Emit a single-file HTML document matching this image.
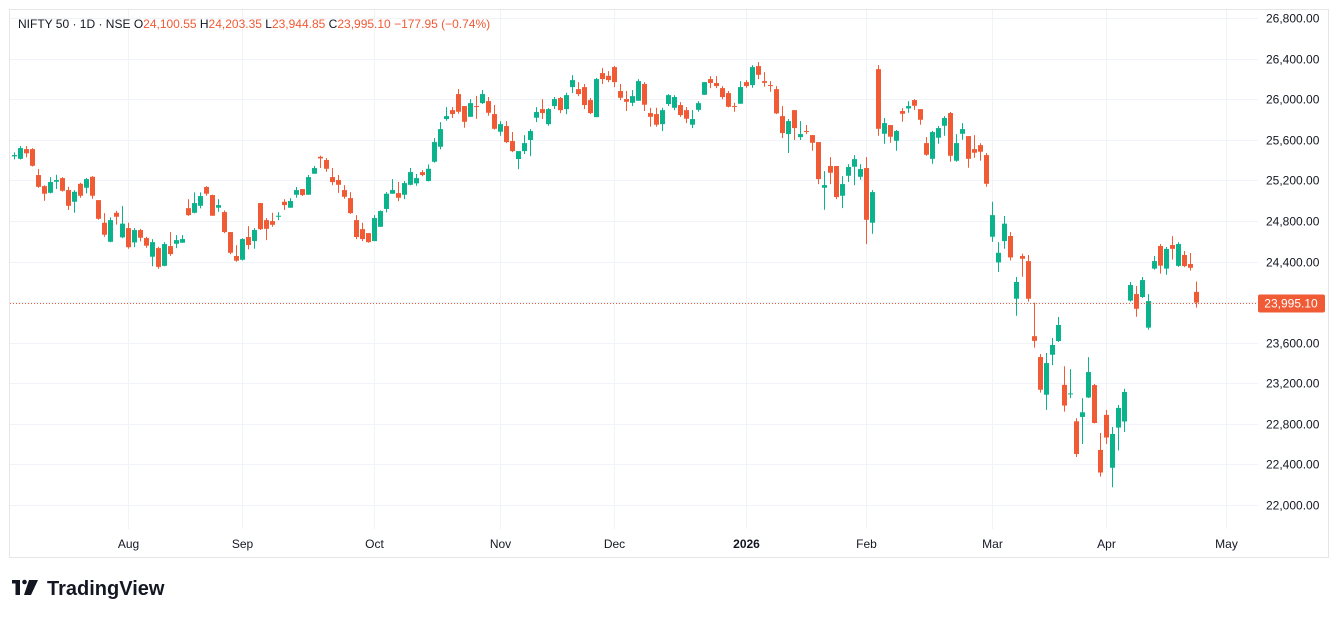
<!DOCTYPE html>
<html><head><meta charset="utf-8"><style>
html,body{margin:0;padding:0;background:#fff;width:1339px;height:618px;overflow:hidden}
svg{display:block;font-family:"Liberation Sans",sans-serif}
</style></head><body>
<svg id="chart" width="1339" height="618" viewBox="0 0 1339 618" xmlns="http://www.w3.org/2000/svg">
<rect x="9.5" y="9.5" width="1319" height="548" fill="#fff" stroke="#e6e6e6"/>
<g id="grid"></g>
<g id="candles"></g>
<g id="axes"></g>
<text x="18" y="28" font-size="12" fill="#131722">NIFTY 50 · 1D · NSE  <tspan>O</tspan><tspan fill="#f05a35">24,100.55</tspan>  H<tspan fill="#f05a35">24,203.35</tspan>  L<tspan fill="#f05a35">23,944.85</tspan>  C<tspan fill="#f05a35">23,995.10</tspan>  <tspan fill="#f05a35">−177.95 (−0.74%)</tspan></text>
<g>
<rect x="12" y="580" width="8" height="3.5" fill="#131722"/><rect x="15.5" y="580" width="4.5" height="15" fill="#131722"/>
<circle cx="24.5" cy="582" r="2.3" fill="#131722"/><polygon points="29,580 38,580 31,595 24,595" fill="#131722"/>
<text x="47" y="595" font-size="20" font-weight="bold" fill="#131722">TradingView</text>
</g>
</svg>
<script>
const opens=[25436,25412,25508,25508,25252,25143,25077,25186,25222,25104,24989,25166,25127,25235,25005,24782,24594,24880,24638,24729,24588,24710,24631,24447,24532,24357,24552,24575,24585,24926,24880,24949,25134,25055,24930,24887,24690,24454,24417,24641,24601,24976,24808,24798,24845,24989,24930,25058,25114,25058,25265,25432,25400,25232,25203,25104,25025,24808,24719,24680,24601,24742,24918,25068,25074,25058,25156,25170,25281,25193,25383,25531,25804,25892,26050,25932,25826,25932,25961,25981,25853,25679,25735,25587,25410,25488,25597,25817,25902,25754,25932,26011,25902,26119,26099,26119,25991,25823,26257,26230,26316,26080,26001,25964,25984,26149,25863,25853,25754,25952,25915,25942,25892,25748,25895,26043,26198,26159,26109,26060,25932,25955,26168,26139,26326,26178,26139,26099,25833,25656,25892,25626,25686,25646,25577,25127,25341,25341,25048,25245,25334,25235,25321,24782,26296,25659,25745,25590,25883,25909,25991,25902,25567,25412,25620,25738,25863,25393,25659,25636,25508,25547,25449,24644,24391,24601,24651,24033,24454,24404,23664,23458,23087,23481,23616,23184,23093,22825,22868,23060,23182,22543,22888,22367,22763,22823,24015,24079,24050,23748,24330,24553,24330,24562,24357,24464,24375,24100.55];
const highs=[25475,25538,25538,25518,25311,25150,25232,25255,25232,25137,25104,25176,25222,25242,25005,24877,24835,24900,24946,24782,24729,24722,24644,24621,24545,24591,24690,24660,24660,25015,25081,25081,25143,25058,25015,24904,24690,24562,24631,24749,24729,24976,24828,24880,24887,25015,25025,25134,25114,25252,25341,25442,25419,25321,25252,25153,25084,24857,24782,24680,24857,24904,25084,25212,25183,25193,25321,25262,25301,25357,25616,25774,25922,25922,26099,25932,26001,26033,26090,26021,25942,25784,25784,25676,25488,25646,25705,25922,26001,25912,26021,26021,26063,26237,26168,26149,26011,26210,26306,26277,26326,26149,26080,26090,26198,26168,25915,25915,25915,26050,26040,25971,25922,25892,25981,26168,26227,26227,26129,26080,25964,26178,26188,26336,26365,26267,26178,26129,25932,25804,25892,25784,25745,25646,25577,25291,25429,25341,25242,25360,25449,25360,25429,25104,26336,25814,25745,25696,25912,25981,26001,25902,25626,25686,25735,25833,25873,25656,25764,25636,25646,25567,25469,24989,24591,24848,24690,24247,24477,24464,23994,23488,23498,23646,23853,23368,23339,22855,23053,23458,23192,22710,22937,22769,22986,23144,24198,24158,24247,24079,24454,24572,24543,24650,24591,24503,24484,24203.35];
const lows=[25407,25405,25426,25336,25127,24998,25070,25114,25089,24907,24880,25028,25072,25018,24811,24644,24590,24763,24630,24526,24541,24598,24535,24353,24327,24353,24456,24532,24585,24850,24874,24924,25048,24851,24890,24680,24473,24397,24410,24520,24526,24710,24611,24742,24808,24907,24930,25028,25045,25058,25265,25321,25284,25153,25077,25018,24870,24621,24601,24585,24601,24742,24884,25068,24995,25015,25150,25147,25240,25190,25374,25505,25787,25814,25856,25718,25826,25807,25952,25836,25700,25639,25567,25478,25311,25459,25439,25774,25804,25738,25902,25863,25853,26060,26030,25902,25853,25823,26149,26168,26119,25991,25883,25932,25984,25883,25728,25728,25685,25932,25892,25826,25764,25715,25876,26043,26109,26109,26001,25919,25876,25955,26112,26112,26198,26122,26073,25853,25616,25469,25597,25597,25656,25492,25163,24910,25163,25015,24926,25183,25153,25206,24571,24674,25639,25560,25570,25492,25777,25866,25895,25748,25442,25363,25560,25639,25383,25383,25600,25324,25422,25393,25137,24594,24296,24526,24410,23865,24250,24004,23551,23107,22937,23379,23606,22920,23054,22473,22601,23055,22805,22280,22601,22175,22537,22720,24004,23856,24040,23728,24320,24280,24270,24418,24347,24345,24310,23944.85];
const closes=[25449,25518,25466,25343,25136,25068,25183,25203,25097,24949,25087,25048,25212,25048,24821,24664,24808,24841,24773,24541,24710,24634,24556,24591,24347,24572,24473,24611,24621,24857,24976,25045,25068,24851,24956,24690,24486,24408,24621,24562,24710,24719,24722,24762,24851,24956,24996,25104,25055,25232,25321,25416,25314,25183,25156,25038,24877,24641,24621,24591,24828,24897,25068,25104,25028,25173,25281,25222,25252,25314,25577,25705,25833,25853,25876,25777,25961,25925,26050,25866,25708,25754,25577,25488,25488,25567,25686,25873,25863,25902,26001,25892,26040,26188,26050,25942,25863,26198,26198,26188,26168,26014,25974,26030,26178,25945,25826,25748,25892,26040,26021,25843,25807,25804,25961,26168,26159,26129,26021,25925,25925,26119,26129,26316,26240,26161,26132,25860,25666,25784,25715,25656,25679,25570,25212,25153,25275,25035,25163,25331,25409,25311,24811,25084,25708,25764,25630,25686,25856,25932,25935,25797,25452,25676,25715,25814,25442,25567,25705,25412,25472,25482,25166,24857,24486,24773,24440,24198,24427,24033,23618,23136,23399,23577,23774,22980,23100,22503,22914,23310,22808,22320,22665,22700,22957,23114,24168,23934,24217,24010,24404,24359,24524,24525,24572,24355,24338,23995.10];
const priceTicks=[22000,22400,22800,23200,23600,24000,24400,24800,25200,25600,26000,26400,26800];
const monthLabels=["Aug","Sep","Oct","Nov","Dec","2026","Feb","Mar","Apr","May"];
const monthIndex=[19,38,60,81,100,122,142,163,182,202];
const lastPrice=23995.10;

const NS="http://www.w3.org/2000/svg";
const yTop=18,yBot=505,pMax=26800,pMin=22000;
function yScale(p){return yTop+(pMax-p)*(yBot-yTop)/(pMax-pMin);}
function xScale(i){return 14+i*6;}
function mk(tag,attrs,parent){const e=document.createElementNS(NS,tag);for(const k in attrs)e.setAttribute(k,attrs[k]);parent.appendChild(e);return e;}
const grid=document.getElementById('grid'),cg=document.getElementById('candles'),ax=document.getElementById('axes');
const fmt=v=>v.toLocaleString('en-US',{minimumFractionDigits:2,maximumFractionDigits:2});
priceTicks.forEach(p=>{
  const y=Math.round(yScale(p))+0.5;
  const l=mk('line',{x1:10,x2:1258,y1:y,y2:y,stroke:'#f0f3fa'},grid);
  
  
  const t=mk('text',{x:1266,y:y+4,'font-size':12,fill:'#131722'},ax);
  t.textContent=fmt(p);
  
  
});
monthLabels.forEach((m,k)=>{
  const x=xScale(monthIndex[k])+0.5;
  const l=mk('line',{x1:x,x2:x,y1:10,y2:529,stroke:'#f0f3fa'},grid);
  
  
  const t=mk('text',{x:x,y:548,'font-size':12,fill:'#131722','text-anchor':'middle','font-weight':m==='2026'?'bold':'normal'},ax);
  t.textContent=m;
  
  
});
closes.forEach((c,i)=>{
  const o=opens[i],h=highs[i],lo=lows[i];
  const col=c>=o?'#089981':'#f23645';
  const fill=c>=o?'#0bb38c':'#f05a35';
  const x=xScale(i);
  const g=mk('g',{},cg);
  
  
  mk('line',{x1:x+0.5,x2:x+0.5,y1:yScale(h),y2:yScale(lo),stroke:fill,'stroke-width':1},g);
  const top=yScale(Math.max(o,c)),bot=yScale(Math.min(o,c));
  mk('rect',{x:x-2,y:top,width:5,height:Math.max(1,bot-top),fill:fill},g);
});
const ly=Math.round(yScale(lastPrice))+0.5;
const dl=mk('line',{x1:10,x2:1258,y1:ly,y2:ly,stroke:'#f05a35','stroke-dasharray':'1 2'},ax);


const lb=mk('rect',{x:1258,y:ly-9,width:67,height:18,rx:2,fill:'#f05a35'},ax);


const lt=mk('text',{x:1291,y:ly+4,'font-size':12,fill:'#fff','text-anchor':'middle'},ax);
lt.textContent=fmt(lastPrice);


</script>
</body></html>
